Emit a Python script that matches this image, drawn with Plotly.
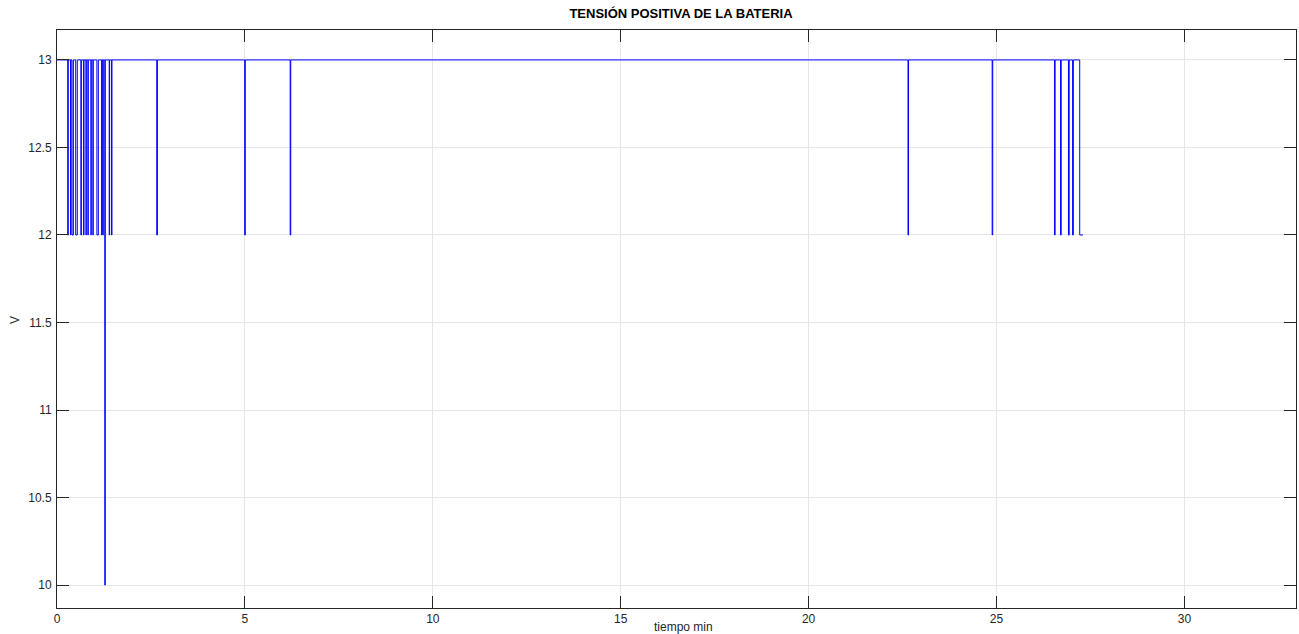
import plotly.graph_objects as go

# Positive battery voltage, switching between 13 V and short drops
# Each drop: start time, end time (minutes) and the level reached (V)
dip_start = [0.285, 0.360, 0.400, 0.498, 0.636, 0.708, 0.770, 0.822, 0.902,
             0.955, 1.062, 1.188, 1.220, 1.272, 1.390, 1.452,
             2.655, 4.995, 6.205, 22.645, 24.885,
             26.545, 26.705, 26.915, 27.025]
dip_end = [0.300, 0.372, 0.436, 0.540, 0.648, 0.718, 0.780, 0.832, 0.912,
           0.965, 1.100, 1.198, 1.230, 1.284, 1.400, 1.462,
           2.672, 5.010, 6.220, 22.660, 24.900,
           26.560, 26.722, 26.935, 27.045]
dip_level = [12, 12, 12, 12, 12, 12, 12, 12, 12,
             12, 12, 12, 12, 10, 12, 12,
             12, 12, 12, 12, 12,
             12, 12, 12, 12]

high_level = 13
t_first = 0.0
t_last_drop = 27.215   # final fall to 12 V
t_end = 27.30          # end of the record
end_level = 12

# Assemble the step signal
t = [t_first]
v = [high_level]
for s, e, lvl in zip(dip_start, dip_end, dip_level):
    t += [s, s, e, e]
    v += [high_level, lvl, lvl, high_level]
t += [t_last_drop, t_last_drop, t_end]
v += [high_level, end_level, end_level]

x_ticks = [0, 5, 10, 15, 20, 25, 30]
y_ticks = [10, 10.5, 11, 11.5, 12, 12.5, 13]

FONT = "Liberation Sans, Arial, sans-serif"
INK = "#262626"

fig = go.Figure()
fig.add_trace(go.Scatter(
    x=t, y=v, mode="lines",
    line=dict(color="rgb(0,0,255)", width=1),
    showlegend=False, hoverinfo="x+y",
))

axis_common = dict(
    showline=True, linecolor=INK, linewidth=1, mirror="ticks",
    ticks="inside", ticklen=12, tickwidth=1, tickcolor=INK,
    showgrid=True, gridcolor="#e6e6e6", gridwidth=1, zeroline=False,
    tickfont=dict(family=FONT, size=12, color=INK),
    layer="above traces",
)

fig.update_layout(
    width=1299, height=634,
    margin=dict(l=57, r=3, t=30, b=26),
    paper_bgcolor="white", plot_bgcolor="white",
    title=dict(
        text="<b>TENSIÓN POSITIVA DE LA BATERIA</b>",
        x=(681 - 57) / 1239, xref="paper", xanchor="center",
        y=1 - 13 / 634, yanchor="middle",
        font=dict(family=FONT, size=13, color="black"),
    ),
    xaxis=dict(range=[0, 32.97], tickvals=x_ticks, **axis_common),
    yaxis=dict(range=[9.869, 13.171], tickvals=y_ticks,
               ticklabelstandoff=2, **axis_common),
    font=dict(family=FONT, size=12, color=INK),
)

# Axis titles
fig.add_annotation(text="tiempo min", xref="paper", yref="paper",
                   x=(683 - 57) / 1239, y=-(627 - 608) / 578,
                   xanchor="center", yanchor="middle",
                   showarrow=False, font=dict(family=FONT, size=12, color=INK))
fig.add_annotation(text="V", xref="paper", yref="paper",
                   x=(15 - 57) / 1239, y=(608 - 320) / 578,
                   xanchor="center", yanchor="middle",
                   textangle=-90, showarrow=False,
                   font=dict(family=FONT, size=12, color=INK))

fig.write_html("out.html")
